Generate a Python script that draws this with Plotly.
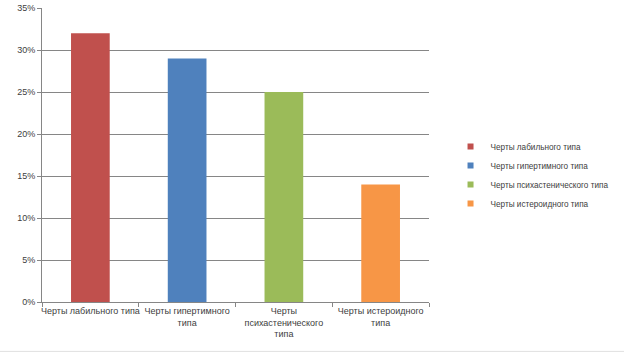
import plotly.graph_objects as go

categories = ["Черты лабильного типа", "Черты гипертимного<br>типа",
              "Черты<br>психастенического<br>типа", "Черты истероидного<br>типа"]
series_names = ["Черты лабильного типа", "Черты гипертимного типа",
                "Черты психастенического типа", "Черты истероидного типа"]
values = [0.32, 0.29, 0.25, 0.14]
colors = ["#C0504D", "#4F81BD", "#9BBB59", "#F79646"]
y_ticks = [0, 0.05, 0.10, 0.15, 0.20, 0.25, 0.30, 0.35]
y_tick_labels = ["0%", "5%", "10%", "15%", "20%", "25%", "30%", "35%"]

FAM = "Liberation Sans Narrow, Liberation Sans, Arial, sans-serif"

fig = go.Figure()
for cat, name, v, c in zip(categories, series_names, values, colors):
    fig.add_trace(go.Bar(x=[cat], y=[v], name=name, marker_color=c,
                         marker_line_width=0, width=0.4, showlegend=False))
# legend entries with small square swatches
for name, c in zip(series_names, colors):
    fig.add_trace(go.Scatter(x=[None], y=[None], mode="markers", name=name,
                             marker=dict(symbol="square", size=6, color=c)))

font = dict(family=FAM, size=9, color="#404040")
fig.update_layout(
    width=624, height=352,
    margin=dict(l=42, r=195, t=8, b=50, autoexpand=False),
    paper_bgcolor="white", plot_bgcolor="white",
    barmode="overlay",
    font=font,
    showlegend=True,
    legend=dict(xref="container", yref="container", x=0.722, y=0.503,
                xanchor="left", yanchor="middle",
                font=dict(family=FAM, size=8.2, color="#404040"),
                itemwidth=30, tracegroupgap=0, bgcolor="rgba(0,0,0,0)"),
    xaxis=dict(type="category", categoryorder="array", categoryarray=categories,
               showline=True, linecolor="#868686", linewidth=1,
               ticks="outside", tickson="boundaries", ticklen=4, tickcolor="#868686",
               showgrid=False, tickangle=0, tickfont=font, automargin=False),
    yaxis=dict(range=[0, 0.35], tickvals=y_ticks, ticktext=y_tick_labels,
               showline=True, linecolor="#868686", linewidth=1,
               ticks="outside", ticklen=4, tickcolor="#868686",
               showgrid=True, gridcolor="#868686", gridwidth=1,
               zeroline=False, tickfont=font, automargin=False),
)
fig.add_shape(type="line", xref="paper", yref="paper", x0=-0.2, x1=1.6,
              y0=-0.168, y1=-0.168, line=dict(color="#E0E0E0", width=1))
fig.write_html("out.html")
